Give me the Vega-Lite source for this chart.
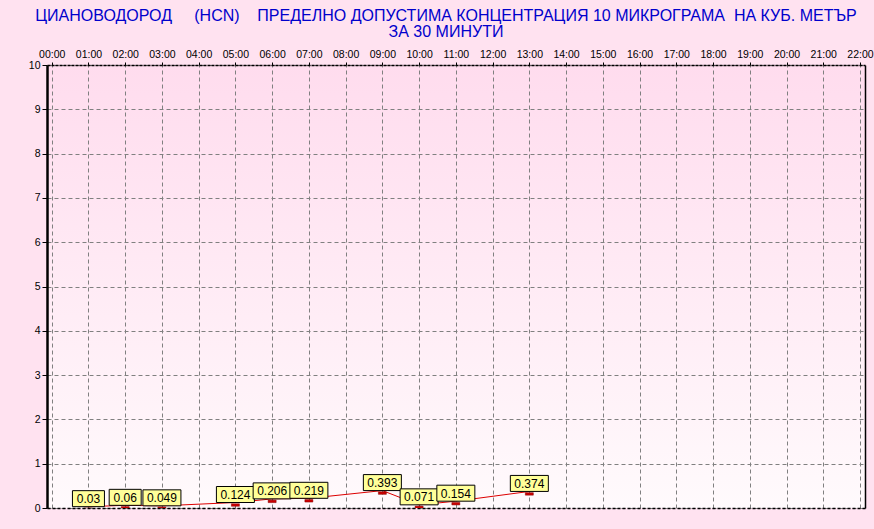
{
  "$schema": "https://vega.github.io/schema/vega-lite/v6.json",
  "autosize": {"type": "none"},
  "width": 818,
  "height": 443,
  "padding": {"left": 47, "top": 65, "right": 9, "bottom": 21},
  "background": "#FFE2F0",
  "config": {
    "view": {
      "stroke": null,
      "fill": {"gradient": "linear", "x1": 0, "y1": 0, "x2": 0, "y2": 1,
        "stops": [{"offset": 0, "color": "#FFDCEE"}, {"offset": 1, "color": "#FFFAFC"}]}
    },
    "font": "Liberation Sans"
  },
  "title": {
    "text": ["ЦИАНОВОДОРОД\u00a0\u00a0\u00a0\u00a0\u00a0(HCN)\u00a0\u00a0\u00a0\u00a0ПРЕДЕЛНО ДОПУСТИМА КОНЦЕНТРАЦИЯ 10 МИКРОГРАМА\u00a0\u00a0НА КУБ. МЕТЪР", "ЗА 30 МИНУТИ"],
    "font": "Liberation Sans",
    "fontSize": 16,
    "fontWeight": "normal",
    "color": "#0000CC",
    "anchor": "middle",
    "frame": "group",
    "dx": -10,
    "offset": 9,
    "lineHeight": 16
  },
  "data": {"values": [
    {"h": 1, "v": 0.03},
    {"h": 2, "v": 0.06},
    {"h": 3, "v": 0.049},
    {"h": 5, "v": 0.124},
    {"h": 6, "v": 0.206},
    {"h": 7, "v": 0.219},
    {"h": 9, "v": 0.393},
    {"h": 10, "v": 0.071},
    {"h": 11, "v": 0.154},
    {"h": 13, "v": 0.374}
  ]},
  "resolve": {"axis": {"x": "independent", "y": "independent"}},
  "layer": [
    {
      "mark": {"type": "line", "color": "#DD0000", "strokeWidth": 1},
      "encoding": {
        "x": {"field": "h", "type": "quantitative",
          "scale": {"domain": [-0.128, 22.136], "nice": false, "zero": false},
          "axis": {"orient": "top", "title": null,
            "values": [0,1,2,3,4,5,6,7,8,9,10,11,12,13,14,15,16,17,18,19,20,21,22],
            "labelExpr": "(datum.value < 10 ? '0' : '') + datum.value + ':00'",
            "grid": true, "gridColor": "#808080", "gridDash": [4, 3], "gridWidth": 1,
            "domainColor": "#000000", "domainDash": [3, 1], "domainWidth": 1.5,
            "tickColor": "#000000", "tickSize": 3, "labelPadding": 3,
            "labelFont": "Liberation Sans", "labelFontSize": 10.5, "labelColor": "#000000",
            "labelOverlap": false, "labelFlush": false}},
        "y": {"field": "v", "type": "quantitative",
          "scale": {"domain": [0, 10], "nice": false},
          "axis": {"orient": "left", "title": null,
            "values": [0,1,2,3,4,5,6,7,8,9,10],
            "grid": true, "gridColor": "#808080", "gridDash": [4, 3], "gridWidth": 1,
            "domainColor": "#000000", "domainWidth": 2.5,
            "tickColor": "#000000", "tickSize": 5, "labelPadding": 2,
            "labelFont": "Liberation Sans", "labelFontSize": 10.5, "labelColor": "#000000"}}
      }
    },
    {
      "mark": {"type": "point", "shape": "M-1,-0.3125H1V0.3125H-1Z", "size": 64, "filled": true,
        "fill": "#CC0000", "stroke": "#800000", "strokeWidth": 0.5, "opacity": 1, "yOffset": 2.5, "clip": true},
      "encoding": {
        "x": {"field": "h", "type": "quantitative",
          "axis": {"orient": "bottom", "title": null, "labels": false, "ticks": false, "grid": false,
            "domainColor": "#000000", "domainDash": [3, 2], "domainWidth": 1.5}},
        "y": {"field": "v", "type": "quantitative",
          "axis": {"orient": "right", "title": null, "labels": false, "ticks": false, "grid": false,
            "domainColor": "#000000", "domainWidth": 1.5}}
      }
    },
    {
      "transform": [{"filter": "length(toString(datum.v)) == 4"}],
      "mark": {"type": "point", "shape": "M-1,-0.5H1V0.5H-1Z", "size": 1024, "filled": true,
        "fill": "#FFFF99", "stroke": "#000000", "strokeWidth": 1, "opacity": 1, "yOffset": -8},
      "encoding": {
        "x": {"field": "h", "type": "quantitative", "axis": null},
        "y": {"field": "v", "type": "quantitative", "axis": null}
      }
    },
    {
      "transform": [{"filter": "length(toString(datum.v)) == 5"}],
      "mark": {"type": "point", "shape": "M-1,-0.421H1V0.421H-1Z", "size": 1444, "filled": true,
        "fill": "#FFFF99", "stroke": "#000000", "strokeWidth": 1, "opacity": 1, "yOffset": -8},
      "encoding": {
        "x": {"field": "h", "type": "quantitative", "axis": null},
        "y": {"field": "v", "type": "quantitative", "axis": null}
      }
    },
    {
      "mark": {"type": "text", "font": "Liberation Sans", "fontSize": 12, "color": "#000000",
        "align": "center", "baseline": "middle", "yOffset": -7.5},
      "encoding": {
        "x": {"field": "h", "type": "quantitative", "axis": null},
        "y": {"field": "v", "type": "quantitative", "axis": null},
        "text": {"field": "v", "type": "nominal"}
      }
    }
  ]
}
